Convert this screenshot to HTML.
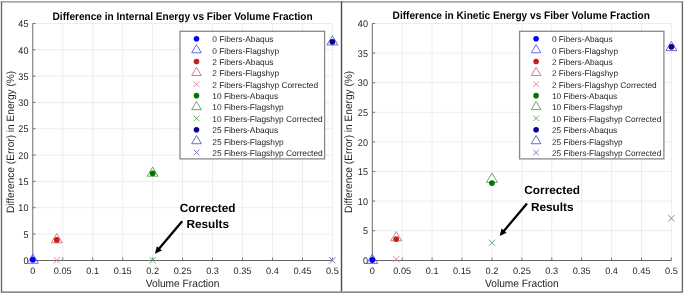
<!DOCTYPE html><html><head><meta charset="utf-8"><style>html,body{margin:0;padding:0;background:#fff;width:685px;height:293px;overflow:hidden}svg{display:block;filter:blur(0.3px)}text{font-family:"Liberation Sans", sans-serif;text-rendering:geometricPrecision}</style></head><body>
<svg width="685" height="293" viewBox="0 0 685 293">
<rect width="685" height="293" fill="#fff"/>
<path d="M62.76 23.50V260.30M92.72 23.50V260.30M122.68 23.50V260.30M152.64 23.50V260.30M182.60 23.50V260.30M212.56 23.50V260.30M242.52 23.50V260.30M272.48 23.50V260.30M302.44 23.50V260.30M332.40 23.50V260.30M32.80 233.99H332.40M32.80 207.68H332.40M32.80 181.37H332.40M32.80 155.06H332.40M32.80 128.74H332.40M32.80 102.43H332.40M32.80 76.12H332.40M32.80 49.81H332.40M32.80 23.50H332.40" stroke="#ededed" stroke-width="1" fill="none"/>
<path d="M32.80 23.50V260.30" stroke="#6a6a6a" stroke-width="1" fill="none"/>
<path d="M32.30 260.45H332.40" stroke="#666" stroke-width="1.1" fill="none"/>
<path d="M32.80 260.30v-2.8M62.76 260.30v-2.8M92.72 260.30v-2.8M122.68 260.30v-2.8M152.64 260.30v-2.8M182.60 260.30v-2.8M212.56 260.30v-2.8M242.52 260.30v-2.8M272.48 260.30v-2.8M302.44 260.30v-2.8M332.40 260.30v-2.8M32.80 260.30h2.8M32.80 233.99h2.8M32.80 207.68h2.8M32.80 181.37h2.8M32.80 155.06h2.8M32.80 128.74h2.8M32.80 102.43h2.8M32.80 76.12h2.8M32.80 49.81h2.8M32.80 23.50h2.8" stroke="#666" stroke-width="0.9" fill="none"/>
<text x="32.80" y="274.10" font-size="9.2" fill="#1e1e1e" text-anchor="middle">0</text>
<text x="62.76" y="274.10" font-size="9.2" fill="#1e1e1e" text-anchor="middle">0.05</text>
<text x="92.72" y="274.10" font-size="9.2" fill="#1e1e1e" text-anchor="middle">0.1</text>
<text x="122.68" y="274.10" font-size="9.2" fill="#1e1e1e" text-anchor="middle">0.15</text>
<text x="152.64" y="274.10" font-size="9.2" fill="#1e1e1e" text-anchor="middle">0.2</text>
<text x="182.60" y="274.10" font-size="9.2" fill="#1e1e1e" text-anchor="middle">0.25</text>
<text x="212.56" y="274.10" font-size="9.2" fill="#1e1e1e" text-anchor="middle">0.3</text>
<text x="242.52" y="274.10" font-size="9.2" fill="#1e1e1e" text-anchor="middle">0.35</text>
<text x="272.48" y="274.10" font-size="9.2" fill="#1e1e1e" text-anchor="middle">0.4</text>
<text x="302.44" y="274.10" font-size="9.2" fill="#1e1e1e" text-anchor="middle">0.45</text>
<text x="332.40" y="274.10" font-size="9.2" fill="#1e1e1e" text-anchor="middle">0.5</text>
<text transform="translate(28.40 264.05) scale(0.98 1.05)" font-size="9.2" fill="#1e1e1e" text-anchor="end">0</text>
<text transform="translate(28.40 237.74) scale(0.98 1.05)" font-size="9.2" fill="#1e1e1e" text-anchor="end">5</text>
<text transform="translate(28.40 211.43) scale(0.98 1.05)" font-size="9.2" fill="#1e1e1e" text-anchor="end">10</text>
<text transform="translate(28.40 185.12) scale(0.98 1.05)" font-size="9.2" fill="#1e1e1e" text-anchor="end">15</text>
<text transform="translate(28.40 158.81) scale(0.98 1.05)" font-size="9.2" fill="#1e1e1e" text-anchor="end">20</text>
<text transform="translate(28.40 132.49) scale(0.98 1.05)" font-size="9.2" fill="#1e1e1e" text-anchor="end">25</text>
<text transform="translate(28.40 106.18) scale(0.98 1.05)" font-size="9.2" fill="#1e1e1e" text-anchor="end">30</text>
<text transform="translate(28.40 79.87) scale(0.98 1.05)" font-size="9.2" fill="#1e1e1e" text-anchor="end">35</text>
<text transform="translate(28.40 53.56) scale(0.98 1.05)" font-size="9.2" fill="#1e1e1e" text-anchor="end">40</text>
<text transform="translate(28.40 27.25) scale(0.98 1.05)" font-size="9.2" fill="#1e1e1e" text-anchor="end">45</text>
<text transform="translate(182.60 286.6) scale(1 1.05)" font-size="10.2" fill="#1e1e1e" text-anchor="middle">Volume Fraction</text>
<text transform="translate(13.90 141.90) rotate(-90) scale(1 1.05)" font-size="10.15" fill="#1e1e1e" text-anchor="middle">Difference (Error) in Energy (%)</text>
<text transform="translate(182.60 19.6) scale(1 1.08)" font-size="10.1" font-weight="bold" fill="#000" text-anchor="middle">Difference in Internal Energy vs Fiber Volume Fraction</text>
<path d="M32.80 254.12L38.30 263.32L27.30 263.32Z" fill="none" stroke="#5a5ae8" stroke-width="0.9"/>
<path d="M56.77 233.60L62.27 242.80L51.27 242.80Z" fill="none" stroke="#d07070" stroke-width="0.9"/>
<path d="M152.64 166.98L158.14 176.18L147.14 176.18Z" fill="none" stroke="#5a9e5a" stroke-width="0.9"/>
<path d="M332.40 35.79L337.90 44.99L326.90 44.99Z" fill="none" stroke="#5c5cc0" stroke-width="0.9"/>
<circle cx="32.80" cy="259.77" r="2.9" fill="#0000ff"/>
<circle cx="56.77" cy="239.88" r="2.9" fill="#c41e1e"/>
<circle cx="152.64" cy="173.32" r="2.9" fill="#007800"/>
<circle cx="332.40" cy="41.81" r="2.9" fill="#0a0096"/>
<path d="M53.62 257.15L59.92 263.45M59.92 257.15L53.62 263.45" stroke="#e08080" stroke-width="0.9"/>
<path d="M149.49 257.15L155.79 263.45M155.79 257.15L149.49 263.45" stroke="#5aa05a" stroke-width="0.9"/>
<path d="M329.25 257.15L335.55 263.45M335.55 257.15L329.25 263.45" stroke="#7070cc" stroke-width="0.9"/>
<rect x="180.00" y="31.30" width="144.60" height="127.60" fill="#fff" stroke="#8a8a8a" stroke-width="1.3"/>
<circle cx="196.50" cy="38.80" r="2.8" fill="#0000ff"/>
<text x="212.30" y="42.20" font-size="8.35" fill="#1e1e1e">0 Fibers-Abaqus</text>
<path d="M196.50 44.57L201.30 52.77L191.70 52.77Z" fill="none" stroke="#5a5ae8" stroke-width="0.9"/>
<text x="212.30" y="53.57" font-size="8.35" fill="#1e1e1e">0 Fibers-Flagshyp</text>
<circle cx="196.50" cy="61.54" r="2.8" fill="#c41e1e"/>
<text x="212.30" y="64.94" font-size="8.35" fill="#1e1e1e">2 Fibers-Abaqus</text>
<path d="M196.50 67.31L201.30 75.51L191.70 75.51Z" fill="none" stroke="#d07070" stroke-width="0.9"/>
<text x="212.30" y="76.31" font-size="8.35" fill="#1e1e1e">2 Fibers-Flagshyp</text>
<path d="M193.65 81.43L199.35 87.13M199.35 81.43L193.65 87.13" stroke="#e08080" stroke-width="0.9"/>
<text x="212.30" y="87.68" font-size="8.35" fill="#1e1e1e">2 Fibers-Flagshyp Corrected</text>
<circle cx="196.50" cy="95.65" r="2.8" fill="#007800"/>
<text x="212.30" y="99.05" font-size="8.35" fill="#1e1e1e">10 Fibers-Abaqus</text>
<path d="M196.50 101.42L201.30 109.62L191.70 109.62Z" fill="none" stroke="#5a9e5a" stroke-width="0.9"/>
<text x="212.30" y="110.42" font-size="8.35" fill="#1e1e1e">10 Fibers-Flagshyp</text>
<path d="M193.65 115.54L199.35 121.24M199.35 115.54L193.65 121.24" stroke="#5aa05a" stroke-width="0.9"/>
<text x="212.30" y="121.79" font-size="8.35" fill="#1e1e1e">10 Fibers-Flagshyp Corrected</text>
<circle cx="196.50" cy="129.76" r="2.8" fill="#0a0096"/>
<text x="212.30" y="133.16" font-size="8.35" fill="#1e1e1e">25 Fibers-Abaqus</text>
<path d="M196.50 135.53L201.30 143.73L191.70 143.73Z" fill="none" stroke="#5c5cc0" stroke-width="0.9"/>
<text x="212.30" y="144.53" font-size="8.35" fill="#1e1e1e">25 Fibers-Flagshyp</text>
<path d="M193.65 149.65L199.35 155.35M199.35 149.65L193.65 155.35" stroke="#7070cc" stroke-width="0.9"/>
<text x="212.30" y="155.90" font-size="8.35" fill="#1e1e1e">25 Fibers-Flagshyp Corrected</text>
<text x="207.70" y="211.60" font-size="11.8" font-weight="bold" fill="#000" text-anchor="middle">Corrected</text>
<text x="207.70" y="227.80" font-size="11.8" font-weight="bold" fill="#000" text-anchor="middle">Results</text>
<path d="M182.20 221.20L158.76 249.11" stroke="#000" stroke-width="2.3"/>
<path d="M154.90 253.70L156.88 246.22L161.93 250.46Z" fill="#000"/>
<path d="M402.21 23.50V260.30M432.12 23.50V260.30M462.03 23.50V260.30M491.94 23.50V260.30M521.85 23.50V260.30M551.76 23.50V260.30M581.67 23.50V260.30M611.58 23.50V260.30M641.49 23.50V260.30M671.40 23.50V260.30M372.30 230.70H671.40M372.30 201.10H671.40M372.30 171.50H671.40M372.30 141.90H671.40M372.30 112.30H671.40M372.30 82.70H671.40M372.30 53.10H671.40M372.30 23.50H671.40" stroke="#ededed" stroke-width="1" fill="none"/>
<path d="M372.30 23.50V260.30" stroke="#6a6a6a" stroke-width="1" fill="none"/>
<path d="M371.80 260.45H671.40" stroke="#666" stroke-width="1.1" fill="none"/>
<path d="M372.30 260.30v-2.8M402.21 260.30v-2.8M432.12 260.30v-2.8M462.03 260.30v-2.8M491.94 260.30v-2.8M521.85 260.30v-2.8M551.76 260.30v-2.8M581.67 260.30v-2.8M611.58 260.30v-2.8M641.49 260.30v-2.8M671.40 260.30v-2.8M372.30 260.30h2.8M372.30 230.70h2.8M372.30 201.10h2.8M372.30 171.50h2.8M372.30 141.90h2.8M372.30 112.30h2.8M372.30 82.70h2.8M372.30 53.10h2.8M372.30 23.50h2.8" stroke="#666" stroke-width="0.9" fill="none"/>
<text x="372.30" y="274.10" font-size="9.2" fill="#1e1e1e" text-anchor="middle">0</text>
<text x="402.21" y="274.10" font-size="9.2" fill="#1e1e1e" text-anchor="middle">0.05</text>
<text x="432.12" y="274.10" font-size="9.2" fill="#1e1e1e" text-anchor="middle">0.1</text>
<text x="462.03" y="274.10" font-size="9.2" fill="#1e1e1e" text-anchor="middle">0.15</text>
<text x="491.94" y="274.10" font-size="9.2" fill="#1e1e1e" text-anchor="middle">0.2</text>
<text x="521.85" y="274.10" font-size="9.2" fill="#1e1e1e" text-anchor="middle">0.25</text>
<text x="551.76" y="274.10" font-size="9.2" fill="#1e1e1e" text-anchor="middle">0.3</text>
<text x="581.67" y="274.10" font-size="9.2" fill="#1e1e1e" text-anchor="middle">0.35</text>
<text x="611.58" y="274.10" font-size="9.2" fill="#1e1e1e" text-anchor="middle">0.4</text>
<text x="641.49" y="274.10" font-size="9.2" fill="#1e1e1e" text-anchor="middle">0.45</text>
<text x="671.40" y="274.10" font-size="9.2" fill="#1e1e1e" text-anchor="middle">0.5</text>
<text transform="translate(367.90 264.05) scale(0.98 1.05)" font-size="9.2" fill="#1e1e1e" text-anchor="end">0</text>
<text transform="translate(367.90 234.45) scale(0.98 1.05)" font-size="9.2" fill="#1e1e1e" text-anchor="end">5</text>
<text transform="translate(367.90 204.85) scale(0.98 1.05)" font-size="9.2" fill="#1e1e1e" text-anchor="end">10</text>
<text transform="translate(367.90 175.25) scale(0.98 1.05)" font-size="9.2" fill="#1e1e1e" text-anchor="end">15</text>
<text transform="translate(367.90 145.65) scale(0.98 1.05)" font-size="9.2" fill="#1e1e1e" text-anchor="end">20</text>
<text transform="translate(367.90 116.05) scale(0.98 1.05)" font-size="9.2" fill="#1e1e1e" text-anchor="end">25</text>
<text transform="translate(367.90 86.45) scale(0.98 1.05)" font-size="9.2" fill="#1e1e1e" text-anchor="end">30</text>
<text transform="translate(367.90 56.85) scale(0.98 1.05)" font-size="9.2" fill="#1e1e1e" text-anchor="end">35</text>
<text transform="translate(367.90 27.25) scale(0.98 1.05)" font-size="9.2" fill="#1e1e1e" text-anchor="end">40</text>
<text transform="translate(521.85 286.6) scale(1 1.05)" font-size="10.2" fill="#1e1e1e" text-anchor="middle">Volume Fraction</text>
<text transform="translate(351.90 141.90) rotate(-90) scale(1 1.05)" font-size="10.15" fill="#1e1e1e" text-anchor="middle">Difference (Error) in Energy (%)</text>
<text transform="translate(521.25 18.7) scale(1 1.08)" font-size="10.1" font-weight="bold" fill="#000" text-anchor="middle">Difference in Kinetic Energy vs Fiber Volume Fraction</text>
<path d="M372.30 254.22L377.80 263.42L366.80 263.42Z" fill="none" stroke="#5a5ae8" stroke-width="0.9"/>
<path d="M396.23 231.61L401.73 240.81L390.73 240.81Z" fill="none" stroke="#d07070" stroke-width="0.9"/>
<path d="M491.94 173.18L497.44 182.38L486.44 182.38Z" fill="none" stroke="#5a9e5a" stroke-width="0.9"/>
<path d="M671.40 41.40L676.90 50.60L665.90 50.60Z" fill="none" stroke="#5c5cc0" stroke-width="0.9"/>
<circle cx="372.30" cy="260.00" r="2.9" fill="#0000ff"/>
<circle cx="396.23" cy="239.11" r="2.9" fill="#c41e1e"/>
<circle cx="491.94" cy="183.10" r="2.9" fill="#007800"/>
<circle cx="671.40" cy="46.82" r="2.9" fill="#0a0096"/>
<path d="M393.08 255.97L399.38 262.27M399.38 255.97L393.08 262.27" stroke="#e08080" stroke-width="0.9"/>
<path d="M488.79 239.57L495.09 245.87M495.09 239.57L488.79 245.87" stroke="#5aa05a" stroke-width="0.9"/>
<path d="M668.25 215.12L674.55 221.42M674.55 215.12L668.25 221.42" stroke="#7070cc" stroke-width="0.9"/>
<rect x="519.60" y="31.30" width="144.30" height="127.60" fill="#fff" stroke="#8a8a8a" stroke-width="1.3"/>
<circle cx="536.10" cy="38.80" r="2.8" fill="#0000ff"/>
<text x="551.90" y="42.20" font-size="8.28" fill="#1e1e1e">0 Fibers-Abaqus</text>
<path d="M536.10 44.57L540.90 52.77L531.30 52.77Z" fill="none" stroke="#5a5ae8" stroke-width="0.9"/>
<text x="551.90" y="53.57" font-size="8.28" fill="#1e1e1e">0 Fibers-Flagshyp</text>
<circle cx="536.10" cy="61.54" r="2.8" fill="#c41e1e"/>
<text x="551.90" y="64.94" font-size="8.28" fill="#1e1e1e">2 Fibers-Abaqus</text>
<path d="M536.10 67.31L540.90 75.51L531.30 75.51Z" fill="none" stroke="#d07070" stroke-width="0.9"/>
<text x="551.90" y="76.31" font-size="8.28" fill="#1e1e1e">2 Fibers-Flagshyp</text>
<path d="M533.25 81.43L538.95 87.13M538.95 81.43L533.25 87.13" stroke="#e08080" stroke-width="0.9"/>
<text x="551.90" y="87.68" font-size="8.28" fill="#1e1e1e">2 Fibers-Flagshyp Corrected</text>
<circle cx="536.10" cy="95.65" r="2.8" fill="#007800"/>
<text x="551.90" y="99.05" font-size="8.28" fill="#1e1e1e">10 Fibers-Abaqus</text>
<path d="M536.10 101.42L540.90 109.62L531.30 109.62Z" fill="none" stroke="#5a9e5a" stroke-width="0.9"/>
<text x="551.90" y="110.42" font-size="8.28" fill="#1e1e1e">10 Fibers-Flagshyp</text>
<path d="M533.25 115.54L538.95 121.24M538.95 115.54L533.25 121.24" stroke="#5aa05a" stroke-width="0.9"/>
<text x="551.90" y="121.79" font-size="8.28" fill="#1e1e1e">10 Fibers-Flagshyp Corrected</text>
<circle cx="536.10" cy="129.76" r="2.8" fill="#0a0096"/>
<text x="551.90" y="133.16" font-size="8.28" fill="#1e1e1e">25 Fibers-Abaqus</text>
<path d="M536.10 135.53L540.90 143.73L531.30 143.73Z" fill="none" stroke="#5c5cc0" stroke-width="0.9"/>
<text x="551.90" y="144.53" font-size="8.28" fill="#1e1e1e">25 Fibers-Flagshyp</text>
<path d="M533.25 149.65L538.95 155.35M538.95 149.65L533.25 155.35" stroke="#7070cc" stroke-width="0.9"/>
<text x="551.90" y="155.90" font-size="8.28" fill="#1e1e1e">25 Fibers-Flagshyp Corrected</text>
<text x="552.20" y="194.10" font-size="11.8" font-weight="bold" fill="#000" text-anchor="middle">Corrected</text>
<text x="552.20" y="210.50" font-size="11.8" font-weight="bold" fill="#000" text-anchor="middle">Results</text>
<path d="M527.00 203.60L503.47 231.42" stroke="#000" stroke-width="2.3"/>
<path d="M499.60 236.00L501.60 228.52L506.64 232.79Z" fill="#000"/>
<path d="M1.5 1.3V292.4M682.4 1.3V292.4M0.9 292.1H683.1" fill="none" stroke="#666" stroke-width="1.35"/>
<path d="M0.9 1.9H683.1" fill="none" stroke="#888" stroke-width="1.3"/>
<path d="M341.5 1.5V291.5" stroke="#4a4a4a" stroke-width="1.4"/>
</svg></body></html>
